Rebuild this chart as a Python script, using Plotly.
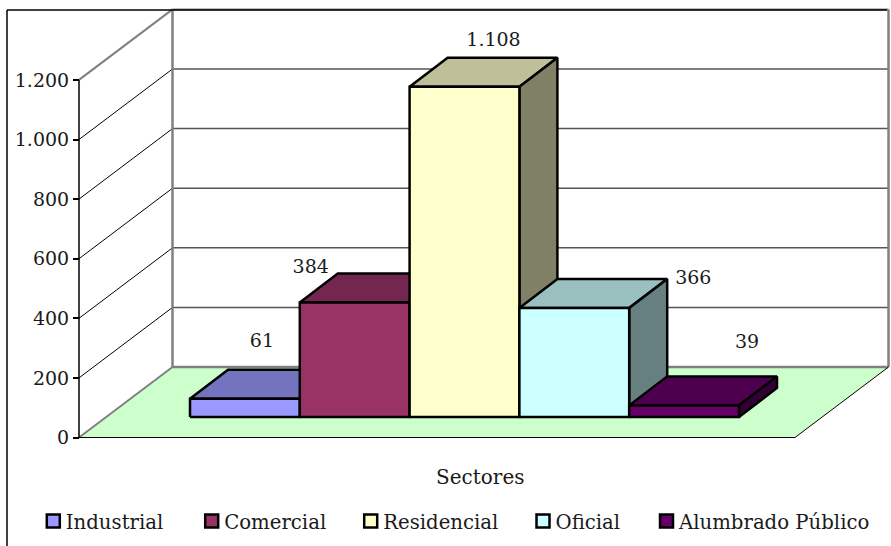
import plotly.graph_objects as go

sectores = ["Industrial", "Comercial", "Residencial", "Oficial", "Alumbrado Público"]
valores = [61, 384, 1108, 366, 39]
ticks = [0, 200, 400, 600, 800, 1000, 1200]

front_colors = ["#9999FF", "#993366", "#FFFFCC", "#CCFFFF", "#660066"]
top_colors = ["#7373BF", "#732650", "#BFBF99", "#99BFBF", "#4D004D"]
side_colors = ["#4D4D80", "#4D1A33", "#808066", "#668080", "#330033"]

# figure size and how many pixels one axis unit takes
W, H = 891, 546
PX_X = 109.8
PX_Y = 0.298
BAR_LEFT_PX = 190
ZERO_PX = 437.5
FONT = "DejaVu Serif"

# wall / floor geometry in axis units
FLOOR_L = (79 - BAR_LEFT_PX) / PX_X
FLOOR_R = (795 - BAR_LEFT_PX) / PX_X
WALL_DX = 93.5 / PX_X
WALL_DY = 70.5 / PX_Y
BAR_DX = 38 / PX_X
BAR_DY = 29 / PX_Y
BAR_BASE = 20.5 / PX_Y

# moved data labels, offset from front top centre of the bar, pixels
label_dx = [17, -44, 29, 119, 63]
label_dy = [57, 34, 46, 29, 62]

# legend row, marker centres in pixels
legend_px = [53.3, 211.7, 370.7, 543, 666.5]
LEGEND_Y_PX = 521
LEGEND_TEXT_GAP = 12.5
LEGEND_TEXT_Y_PX = 524


def to_x(px):
    return (px - BAR_LEFT_PX) / PX_X


def to_y(px):
    return (ZERO_PX - px) / PX_Y


def poly(fig, xs, ys, fill, line_color="black", line_width=2.5):
    fig.add_trace(
        go.Scatter(
            x=xs + xs[:1],
            y=ys + ys[:1],
            mode="lines",
            fill="toself",
            fillcolor=fill,
            line=dict(color=line_color, width=line_width),
            hoverinfo="skip",
            showlegend=False,
        )
    )


def line(fig, xs, ys, color, width):
    fig.add_trace(
        go.Scatter(
            x=xs,
            y=ys,
            mode="lines",
            line=dict(color=color, width=width),
            hoverinfo="skip",
            showlegend=False,
        )
    )


fig = go.Figure()

# floor
back_l = FLOOR_L + WALL_DX
back_r = FLOOR_R + WALL_DX
poly(fig, [FLOOR_L, FLOOR_R, back_r, back_l], [0, 0, WALL_DY, WALL_DY], "#CCFFCC", "rgba(0,0,0,0)", 0)

# gridlines, side wall and back wall
for t in ticks[1:-1]:
    line(fig, [FLOOR_L, back_l], [t, t + WALL_DY], "black", 1)
    line(fig, [back_l, back_r], [t + WALL_DY, t + WALL_DY], "#555555", 1.5)
top = ticks[-1] + WALL_DY
line(fig, [FLOOR_L, back_l], [0, WALL_DY], "#808080", 2)
line(fig, [FLOOR_L, back_l], [ticks[-1], top], "#808080", 2)
line(fig, [back_l, back_l], [WALL_DY, top], "#808080", 2.5)
line(fig, [back_r, back_r], [WALL_DY, top], "#808080", 2.5)
line(fig, [back_l, back_r], [WALL_DY, WALL_DY], "#808080", 2.5)
line(fig, [back_l, back_r], [top, top], "#808080", 2)
line(fig, [FLOOR_R, back_r], [0, WALL_DY], "black", 1)
line(fig, [FLOOR_L, FLOOR_R], [0, 0], "black", 1)
line(fig, [FLOOR_L, FLOOR_L], [0, ticks[-1]], "black", 1.5)

# bars, left to right so each one hides the side of the previous
for i, v in enumerate(valores):
    y0 = BAR_BASE
    y1 = BAR_BASE + v
    poly(fig, [i, i + 1, i + 1 + BAR_DX, i + BAR_DX], [y1, y1, y1 + BAR_DY, y1 + BAR_DY], top_colors[i])
    poly(fig, [i + 1, i + 1 + BAR_DX, i + 1 + BAR_DX, i + 1], [y0, y0 + BAR_DY, y1 + BAR_DY, y1], side_colors[i])
    poly(fig, [i, i + 1, i + 1, i], [y0, y0, y1, y1], front_colors[i])

# data labels
fig.add_trace(
    go.Scatter(
        x=[i + 0.5 + label_dx[i] / PX_X for i in range(len(valores))],
        y=[BAR_BASE + v + label_dy[i] / PX_Y for i, v in enumerate(valores)],
        mode="text",
        text=[f"{v:,}".replace(",", ".") for v in valores],
        textposition="middle center",
        textfont=dict(family=FONT, size=19, color="#1a1a1a"),
        hoverinfo="skip",
        showlegend=False,
    )
)

# legend row: one marker and its name per sector, placed by hand like the original
for name, color, px in zip(sectores, front_colors, legend_px):
    fig.add_trace(
        go.Scatter(
            x=[to_x(px)],
            y=[to_y(LEGEND_Y_PX)],
            mode="markers",
            name=name,
            marker=dict(symbol="square", size=13, color=color, line=dict(color="black", width=2.5)),
            hoverinfo="skip",
            showlegend=False,
        )
    )
    fig.add_trace(
        go.Scatter(
            x=[to_x(px + LEGEND_TEXT_GAP)],
            y=[to_y(LEGEND_TEXT_Y_PX)],
            mode="text",
            text=[name],
            textposition="middle right",
            textfont=dict(family=FONT, size=19.7, color="#1a1a1a"),
            hoverinfo="skip",
            showlegend=False,
        )
    )

fig.update_layout(
    width=W,
    height=H,
    margin=dict(l=0, r=0, t=0, b=0),
    paper_bgcolor="white",
    plot_bgcolor="white",
    separators=",.",
    showlegend=False,
    font=dict(family=FONT, size=19, color="#1a1a1a"),
    xaxis=dict(
        range=[to_x(0), to_x(W)],
        visible=False,
        fixedrange=True,
    ),
    yaxis=dict(
        range=[to_y(H), to_y(0)],
        anchor="free",
        position=79 / W,
        tickvals=ticks,
        tickformat=",d",
        ticks="outside",
        ticklen=6,
        tickwidth=1.5,
        tickcolor="black",
        showgrid=False,
        zeroline=False,
        showline=False,
        fixedrange=True,
    ),
    annotations=[
        dict(
            text="Sectores",
            xref="paper",
            yref="paper",
            x=480 / W,
            y=(H - 477) / H,
            yanchor="middle",
            showarrow=False,
            font=dict(family=FONT, size=20),
        )
    ],
    shapes=[
        dict(type="line", xref="paper", yref="paper", x0=7 / W, x1=7 / W, y0=0, y1=(H - 10) / H,
             line=dict(color="black", width=1.5)),
        dict(type="line", xref="paper", yref="paper", x0=7 / W, x1=887 / W, y0=(H - 10) / H, y1=(H - 10) / H,
             line=dict(color="black", width=1.5)),
    ],
)

# the page default body margin would push the 891 px figure out of the window
fig.write_html(
    "out.html",
    config=dict(displayModeBar=False),
    post_script="document.body.style.margin = '0';",
)
